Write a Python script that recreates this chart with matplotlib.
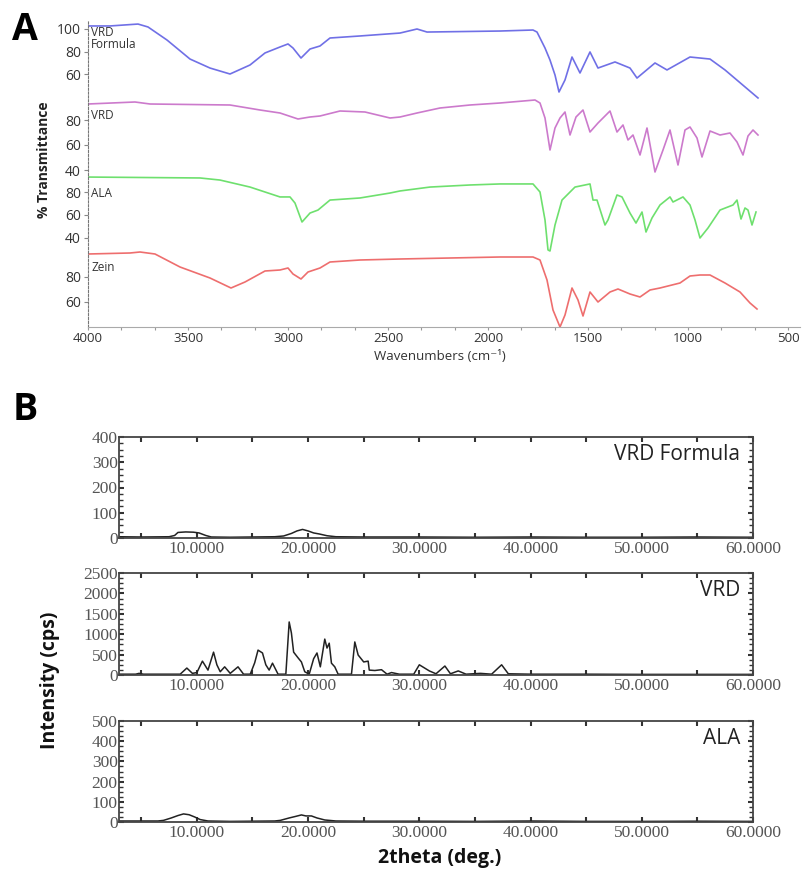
import matplotlib
matplotlib.use("Agg")
import matplotlib.pyplot as plt
from matplotlib.ticker import MultipleLocator

# ---------------------------------------------------------------
# Panel A: FTIR spectra (wavenumber in cm-1, % transmittance)
# ---------------------------------------------------------------
formula_wn = [4000, 3890, 3750, 3700, 3605, 3490, 3390, 3290, 3190, 3115,
              3040, 3000, 2975, 2935, 2890, 2840, 2790, 2640, 2440, 2355,
              2305, 1940, 1775, 1755, 1715, 1690, 1665, 1645, 1615, 1580,
              1540, 1490, 1450, 1365, 1290, 1255, 1165, 1105, 990, 890,
              815, 650]
formula_t = [102.7, 102.7, 104.4, 101.8, 90.2, 73.3, 65.3, 60.0, 68.0, 78.7,
             84.0, 86.7, 83.1, 74.2, 82.2, 84.9, 92.0, 93.8, 96.4, 100.0,
             97.3, 98.2, 99.1, 97.3, 83.1, 72.4, 59.1, 44.0, 54.7, 75.1,
             60.9, 79.6, 65.3, 70.7, 65.3, 56.4, 69.8, 63.6, 75.1, 73.3,
             63.6, 38.7]

vrd_wn = [4000, 3765, 3690, 3290, 3140, 3040, 2950, 2890, 2840, 2740,
          2615, 2490, 2440, 2355, 2240, 2090, 1940, 1765, 1740, 1715,
          1690, 1665, 1640, 1615, 1590, 1560, 1525, 1490, 1450, 1390,
          1355, 1325, 1300, 1275, 1240, 1205, 1165, 1125, 1090, 1050,
          1015, 990, 955, 930, 890, 840, 790, 755, 725, 700,
          675, 650]
vrd_t = [92.8, 94.4, 92.8, 92.0, 88.0, 85.6, 80.8, 82.4, 83.2, 87.2,
         86.4, 81.6, 82.4, 85.6, 89.6, 92.0, 93.6, 96.0, 93.6, 81.6,
         56.0, 73.6, 81.6, 86.4, 68.0, 82.4, 88.0, 70.4, 77.6, 87.2,
         70.4, 76.0, 64.0, 68.0, 52.0, 73.6, 38.4, 56.0, 72.0, 44.0,
         72.0, 74.4, 65.6, 50.4, 71.2, 68.0, 69.6, 62.4, 52.0, 67.2,
         72.0, 68.0]

ala_wn = [4000, 3440, 3340, 3190, 3040, 2990, 2965, 2930, 2890, 2850,
          2790, 2640, 2490, 2440, 2290, 2090, 1940, 1775, 1740, 1715,
          1700, 1690, 1665, 1630, 1565, 1490, 1475, 1455, 1415, 1400,
          1355, 1330, 1290, 1260, 1230, 1210, 1180, 1140, 1090, 1075,
          1025, 990, 965, 940, 900, 840, 775, 755, 735, 715,
          700, 680, 660]
ala_t = [93.0, 92.2, 90.4, 84.3, 75.7, 75.7, 70.4, 53.9, 61.7, 64.3,
         73.0, 74.8, 79.1, 80.9, 84.3, 86.1, 87.0, 87.0, 80.0, 55.7,
         29.6, 28.7, 51.3, 73.0, 84.3, 87.0, 73.0, 73.0, 51.3, 55.7,
         77.4, 75.7, 61.7, 53.0, 62.6, 45.2, 57.4, 68.7, 75.7, 71.3,
         75.7, 68.7, 55.7, 40.0, 48.7, 64.3, 68.7, 73.0, 56.5, 66.1,
         64.3, 51.3, 62.6]

zein_wn = [4000, 3790, 3740, 3665, 3540, 3390, 3285, 3215, 3115, 3040,
           3000, 2975, 2935, 2900, 2840, 2790, 2640, 2440, 1940, 1775,
           1740, 1705, 1675, 1640, 1615, 1580, 1550, 1525, 1490, 1450,
           1390, 1350, 1290, 1240, 1190, 1140, 1040, 990, 940, 890,
           815, 740, 690, 655]
zein_t = [98.4, 99.2, 100.0, 98.4, 88.0, 79.2, 71.2, 76.0, 84.8, 85.6,
          87.2, 82.4, 78.4, 84.0, 87.2, 92.0, 93.6, 94.4, 96.0, 96.0,
          93.6, 77.6, 53.6, 40.0, 49.6, 71.2, 61.6, 48.8, 68.0, 60.0,
          68.0, 70.4, 66.4, 64.0, 69.6, 71.2, 75.2, 80.8, 81.6, 81.6,
          75.2, 68.0, 59.2, 54.4]

ftir_names = ["VRD\nFormula", "VRD", "ALA", "Zein"]
ftir_ticks = [[100, 80, 60], [80, 60, 40], [80, 60, 40], [80, 60]]

# ---------------------------------------------------------------
# Panel B: XRD patterns (2theta in deg, intensity in cps)
# ---------------------------------------------------------------
xf_tt = [3, 5, 7.5, 8.0, 8.3, 9.0, 9.7, 10.2, 10.8, 11.3,
         13, 15, 17, 17.8, 18.5, 19.0, 19.5, 20.0, 20.5, 21.0,
         21.7, 22.5, 25, 30, 35, 40, 45, 50, 55, 60]
xf_i = [5, 4, 5, 10, 22, 24, 23, 20, 10, 4,
        3, 4, 5, 8, 18, 28, 34, 28, 20, 16,
        9, 5, 4, 4, 3, 4, 3, 3, 4, 3]

xv_tt = [3, 4.5, 4.8, 5.2, 8.5, 9.1, 9.6, 10.0, 10.5, 11.0,
         11.5, 11.8, 12.1, 12.5, 13.0, 13.7, 14.2, 14.8, 15.2, 15.5,
         15.9, 16.2, 16.5, 16.8, 17.3, 18.0, 18.3, 18.5, 18.7, 19.1,
         19.4, 19.7, 20.1, 20.5, 20.8, 21.1, 21.5, 21.7, 21.9, 22.1,
         22.4, 22.7, 23.9, 24.2, 24.5, 25.0, 25.4, 25.5, 26.0, 26.6,
         27.1, 27.5, 28.2, 29.5, 30.0, 30.9, 31.5, 32.3, 32.8, 33.5,
         34.2, 35.5, 36.5, 37.4, 38.0, 40, 45, 50, 55, 60]
xv_i = [20, 20, 40, 20, 20, 170, 40, 60, 340, 120,
        560, 250, 80, 200, 40, 200, 20, 20, 300, 610,
        540, 250, 120, 290, 20, 20, 1300, 1030, 560, 420,
        320, 80, 20, 400, 540, 200, 880, 660, 780, 290,
        200, 20, 20, 810, 490, 320, 340, 120, 110, 130,
        20, 60, 20, 20, 250, 100, 30, 220, 30, 100,
        20, 40, 20, 250, 30, 20, 20, 15, 15, 15]

xa_tt = [3, 6.5, 7.0, 7.7, 8.3, 8.8, 9.3, 9.8, 10.3, 11.0,
         13, 15, 17, 17.5, 18.3, 18.9, 19.4, 19.8, 20.3, 20.8,
         21.5, 22.5, 25, 30, 35, 40, 45, 50, 55, 60]
xa_i = [5, 5, 8, 20, 32, 40, 36, 25, 12, 5,
        3, 4, 5, 8, 20, 28, 35, 30, 30, 20,
        10, 5, 4, 4, 3, 5, 3, 3, 4, 3]

xrd_names = ["VRD Formula", "VRD", "ALA"]
xrd_ymax = [400, 2500, 500]
xrd_ystep = [100, 500, 100]

# ---------------------------------------------------------------
# layout / style
# ---------------------------------------------------------------
W, H = 803, 877
fig = plt.figure(figsize=(W / 100, H / 100), dpi=100)

def fx(px):
    return px / W

def fy(py):
    return 1 - py / H

SANS = "Open Sans"
SERIF = "Liberation Serif"

# ── Panel A ──────────────────────────────────
axA = fig.add_axes([fx(88), fy(327), fx(800 - 88), (327 - 20) / H])
axA.set_xlim(4000, 440)
axA.set_ylim(0, 307)

# vertical stacking: plotted y = offset + scale * %T
offsets = [185.5, 107.0, 43.0, -50.0]
scales = [1.125, 1.25, 1.15, 1.25]
colors = ["#7070e6", "#cc7acc", "#6ee06e", "#ee6e6e"]
label_tops = [301, 218, 140, 66]

spectra = [(formula_wn, formula_t), (vrd_wn, vrd_t),
           (ala_wn, ala_t), (zein_wn, zein_t)]

tick_pos, tick_lab = [], []
for i, (wn, t) in enumerate(spectra):
    y = [offsets[i] + scales[i] * v for v in t]
    axA.plot(wn, y, color=colors[i], lw=1.2)
    for v in ftir_ticks[i]:
        tick_pos.append(offsets[i] + scales[i] * v)
        tick_lab.append(str(v))
    axA.text(3985, label_tops[i], ftir_names[i], ha="left", va="top",
             fontsize=8.5, family=SANS, color="#333333", linespacing=0.95)

axA.set_yticks(tick_pos)
axA.set_yticklabels(tick_lab, family=SANS, fontsize=10, color="#333333")
axA.set_xticks([4000, 3500, 3000, 2500, 2000, 1500, 1000, 500])
axA.set_xticklabels(["4000", "3500", "3000", "2500", "2000", "1500", "1000", "500"],
                    family=SANS, fontsize=9.5, color="#333333")
axA.xaxis.set_minor_locator(MultipleLocator(500 / 3))
axA.tick_params(axis="y", length=3, width=0.8, color="#888888", pad=2)
axA.tick_params(axis="x", which="both", length=2.5, width=0.8, color="#999999", pad=1)
for s in ["top", "right"]:
    axA.spines[s].set_visible(False)
axA.spines["left"].set_linestyle((0, (2, 1.5)))
axA.spines["left"].set_color("#777777")
axA.spines["bottom"].set_color("#aaaaaa")

fig.text(fx(44), fy(160), "% Transmittance", rotation=90, ha="center", va="center",
         fontsize=10, fontweight="bold", family=SANS, color="#222222")
fig.text(fx(440), fy(357), "Wavenumbers (cm\u207b\u00b9)", ha="center", va="center",
         fontsize=9.5, family=[SANS, "DejaVu Sans"], color="#333333")
fig.text(fx(25), fy(30), "A", ha="center", va="center", fontsize=27,
         fontweight="bold", family=SANS, color="black")
fig.text(fx(25), fy(410), "B", ha="center", va="center", fontsize=27,
         fontweight="bold", family=SANS, color="black")

# ── Panel B ──────────────────────────────────
boxes = [(437, 538), (573, 675), (721, 822)]
patterns = [(xf_tt, xf_i), (xv_tt, xv_i), (xa_tt, xa_i)]
for k, (top, bot) in enumerate(boxes):
    ax = fig.add_axes([fx(119), fy(bot), fx(753 - 119), (bot - top) / H])
    tt, inten = patterns[k]
    ax.plot(tt, inten, color="#222222", lw=1.1)
    ax.set_xlim(3, 60)
    ax.set_ylim(0, xrd_ymax[k])
    ax.xaxis.set_major_locator(MultipleLocator(10))
    ax.xaxis.set_minor_locator(MultipleLocator(5))
    ax.xaxis.set_major_formatter(plt.FuncFormatter(lambda v, p: f"{v:.4f}"))
    ax.yaxis.set_major_locator(MultipleLocator(xrd_ystep[k]))
    ax.yaxis.set_minor_locator(MultipleLocator(xrd_ystep[k] / 4))
    ax.tick_params(which="both", direction="in", top=True, right=True,
                   color="#333333")
    ax.tick_params(which="major", length=3.5, width=1.5)
    ax.tick_params(which="minor", length=3.5, width=1.0)
    ax.tick_params(axis="y", which="minor", length=3)
    ax.tick_params(axis="x", which="minor", width=1.5)
    ax.tick_params(axis="x", pad=2)
    ax.tick_params(axis="y", pad=1)
    for lab in ax.get_xticklabels() + ax.get_yticklabels():
        lab.set_family(SERIF)
        lab.set_fontsize(12.5)
        lab.set_color("#555555")
    for s in ax.spines.values():
        s.set_color("#444444")
        s.set_linewidth(1.3)
    ax.text(0.98, 0.93, xrd_names[k], transform=ax.transAxes, ha="right", va="top",
            fontsize=15, family=SANS, color="#222222")

fig.text(fx(50), fy(680), "Intensity (cps)", rotation=90, ha="center", va="center",
         fontsize=14, fontweight="bold", family=SANS, color="#111111")
fig.text(fx(440), fy(858), "2theta (deg.)", ha="center", va="center",
         fontsize=14, fontweight="bold", family=SANS, color="#111111")

fig.savefig("out.png", dpi=100)
